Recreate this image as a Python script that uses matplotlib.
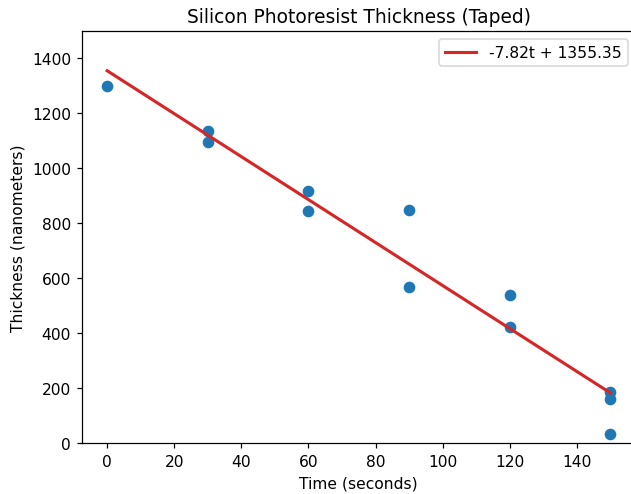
import numpy as np
import matplotlib.pyplot as plt

time_s = [0, 30, 30, 60, 60, 90, 90, 120, 120, 150, 150, 150]
thickness_nm = [1300, 1137, 1096, 918, 846, 849, 569, 540, 423, 187, 161, 33]

# fitted line as printed in the legend
slope = -7.82
intercept = 1355.35

DPI = 112
W, H = 631, 495
fig, ax = plt.subplots(figsize=(W / DPI, H / DPI), dpi=DPI)
ax.scatter(time_s, thickness_nm, s=42, color="tab:blue", zorder=2)

t_fit = np.array([min(time_s), max(time_s)])
ax.plot(t_fit, slope * t_fit + intercept, color="tab:red", linewidth=2,
        label=f"{slope:.2f}t + {intercept:.2f}", zorder=3)

ax.set_ylim(0, 1500)
ax.set_title("Silicon Photoresist Thickness (Taped)")
ax.set_xlabel("Time (seconds)")
ax.set_ylabel("Thickness (nanometers)")
ax.legend(loc="upper right")

# the original image is cropped just inside the right spine
fig.subplots_adjust(left=82 / W, right=635.5 / W, top=1 - 32 / H, bottom=1 - 444 / H)
fig.savefig("out.png", dpi=DPI)
